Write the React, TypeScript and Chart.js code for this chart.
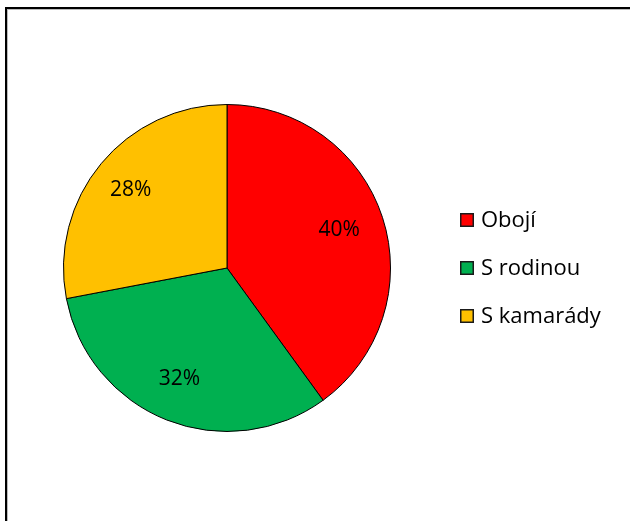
import React, { useEffect, useRef } from "react";
import { Chart, registerables } from "chart.js";

Chart.register(...registerables);

const categories = ["Obojí", "S rodinou", "S kamarády"];
const values = [40, 32, 28];
const colors = ["#FF0000", "#00B050", "#FFC000"];

const FONT = "'Open Sans', 'Noto Sans', sans-serif";

const labelPlugin = {
  id: "sliceLabels",
  afterDatasetsDraw(chart: any) {
    const ctx = chart.ctx;
    const meta = chart.getDatasetMeta(0);
    const total = values.reduce((a, b) => a + b, 0);
    ctx.save();
    ctx.font = `21px ${FONT}`;
    ctx.fillStyle = "#000";
    ctx.textAlign = "center";
    ctx.textBaseline = "middle";
    meta.data.forEach((arc: any, i: number) => {
      const mid = (arc.startAngle + arc.endAngle) / 2;
      const r = arc.outerRadius * 0.74;
      const x = arc.x + Math.cos(mid) * r - 3;
      const y = arc.y + Math.sin(mid) * r - 1;
      ctx.fillText(Math.round((values[i] / total) * 100) + "%", x, y);
    });
    ctx.restore();
  },
};

const legendPlugin = {
  id: "customLegend",
  afterDraw(chart: any) {
    const ctx = chart.ctx;
    ctx.save();
    ctx.font = `22px ${FONT}`;
    ctx.textBaseline = "middle";
    ctx.textAlign = "left";
    const x0 = 460;
    const y0 = 220;
    const gap = 48;
    categories.forEach((c, i) => {
      const y = y0 + i * gap;
      ctx.fillStyle = colors[i];
      ctx.fillRect(x0, y - 7, 14, 14);
      ctx.strokeStyle = "#1a1a1a";
      ctx.lineWidth = 1.5;
      ctx.strokeRect(x0 + 0.75, y - 6.25, 12.5, 12.5);
      ctx.fillStyle = "#000";
      ctx.fillText(c, 481, y + 1);
    });
    ctx.restore();
  },
};

export default function App() {
  const ref = useRef<HTMLCanvasElement>(null);
  useEffect(() => {
    if (!ref.current) return;
    const chart = new Chart(ref.current, {
      type: "pie",
      data: {
        labels: categories,
        datasets: [
          {
            data: values,
            backgroundColor: colors,
            borderColor: "#000",
            borderWidth: 1,
          },
        ],
      },
      options: {
        animation: false,
        responsive: false,
        maintainAspectRatio: false,
        layout: { padding: { left: 63, right: 239, top: 104, bottom: 89 } },
        plugins: {
          legend: { display: false },
          tooltip: { enabled: false },
          title: { display: false },
        },
      },
      plugins: [labelPlugin, legendPlugin],
    });
    return () => chart.destroy();
  }, []);
  return (
    <div
      style={{
        position: "fixed",
        left: 0,
        top: 0,
        width: 630,
        height: 521,
        overflow: "hidden",
        background: "#fff",
      }}
    >
      <div
        style={{
          position: "absolute",
          left: 5,
          top: 7,
          width: 700,
          height: 600,
          border: "2px solid #000",
          boxShadow: "inset 1px 1px 0 #bbb",
        }}
      />
      <canvas
        ref={ref}
        width={630}
        height={521}
        style={{ position: "absolute", left: 0, top: 0, width: 630, height: 521 }}
      />
    </div>
  );
}
